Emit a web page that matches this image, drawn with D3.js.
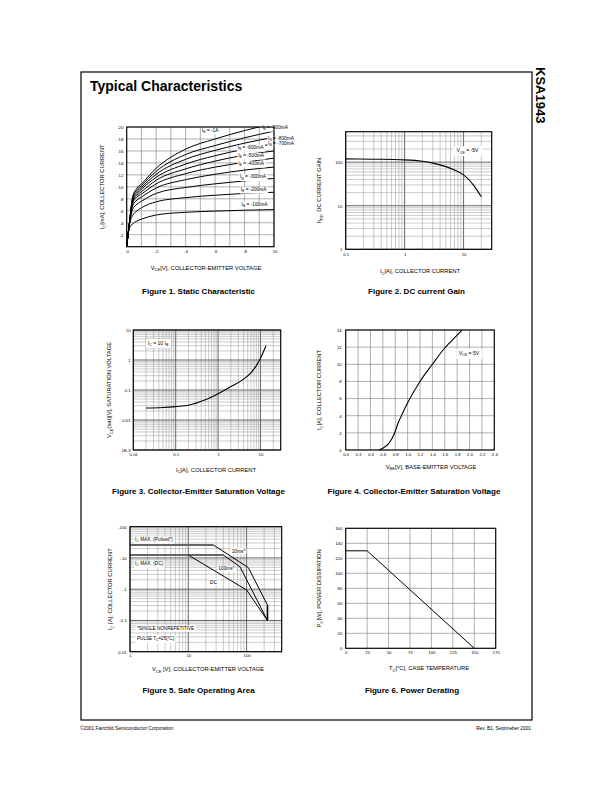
<!DOCTYPE html>
<html><head><meta charset="utf-8">
<script src="https://cdn.jsdelivr.net/npm/d3@7"></script>
<style>body{margin:0;background:#fff}svg{display:block}</style>
</head><body><svg id="c" width="612" height="792"></svg>
<script>
// ---------- Figure 1: Static characteristic ----------
const fig1XTicks = [0,2,4,6,8,10];
const fig1XLabels = [".0",".2",".4",".6",".8",".10"];
const fig1YTicks = [2,4,6,8,10,12,14,16,18,20];
const fig1YLabels = [".2",".4",".6",".8",".10",".12",".14",".16",".18",".20"];
const fig1Vce = [0,0.2,0.4,0.7,1,2,4,6,8,10];
const fig1Ib100  = [0,3.2,3.8,4.3,4.6,5.3,5.75,5.95,6.1,6.2];
const fig1Ib200  = [0,3.8,5.2,6.0,6.5,7.5,8.2,8.6,8.9,9.1];
const fig1Ib300  = [0,4.0,6.2,7.1,7.6,8.9,9.9,10.5,11.0,11.4];
const fig1Ib400  = [0,4.1,6.8,7.8,8.3,9.8,11.2,12.1,12.8,13.3];
const fig1Ib500  = [0,4.2,7.2,8.3,8.8,10.5,12.2,13.3,14.1,14.8];
const fig1Ib600  = [0,4.2,7.5,8.6,9.2,11.1,13.0,14.3,15.3,16.0];
const fig1Ib700  = [0,4.3,7.7,8.9,9.6,11.6,13.8,15.2,16.3,17.2];
const fig1Ib800  = [0,4.3,7.9,9.2,9.9,12.1,14.6,16.1,17.3,18.3];
const fig1Ib900  = [0,4.4,8.1,9.5,10.2,12.6,15.4,16.9,18.2,19.3];
const fig1Ib1000 = [0,4.4,8.3,9.8,10.5,13.1,16.3,18.0,19.4,20.6];
const fig1Labels = ["I_{B} = -1A","I_{B} = -900mA","I_{B} = -800mA","I_{B} = -700mA","I_{B} = -600mA","I_{B} = -500mA","I_{B} = -400mA","I_{B} = -300mA","I_{B} = -200mA","I_{B} = -100mA"];
const fig1LabelX = [5.1,9.2,9.6,9.6,7.53,7.57,7.57,7.7,7.74,7.8];
const fig1LabelY = [19.2,19.65,17.9,17.0,16.3,14.98,13.64,11.4,9.3,6.8];

// ---------- Figure 2: DC current gain ----------
const fig2XTicks = [0.1,1,10];
const fig2XLabels = ["0.1","1","10"];
const fig2YTicks = [1,10,100];
const fig2YLabels = ["1","10","100"];
const fig2Ic  = [0.1,0.3,1,2,3,5,7,10,15,20];
const fig2Hfe = [119,117,113,105,95,79,66,51,29,16];

// ---------- Figure 3: Vce(sat) ----------
const fig3XTicks = [0.01,0.1,1,10];
const fig3XLabels = ["0.01","0.1","1","10"];
const fig3YTicks = [0.001,0.01,0.1,1,10];
const fig3YLabels = ["1E-3","0.01","0.1","1","10"];
const fig3Ic   = [0.02,0.05,0.1,0.2,0.5,1,2,4,6,8,10,13.5];
const fig3Vsat = [0.025,0.026,0.028,0.031,0.047,0.075,0.13,0.23,0.38,0.65,1.15,3.0];

// ---------- Figure 4: Ic vs Vbe ----------
const fig4XTicks = [0,0.2,0.4,0.6,0.8,1.0,1.2,1.4,1.6,1.8,2.0,2.2,2.4];
const fig4XLabels = ["0.0","0.2","0.4","0.6","0.8","1.0","1.2","1.4","1.6","1.8","2.0","2.2","2.4"];
const fig4YTicks = [0,2,4,6,8,10,12,14];
const fig4YLabels = ["0","2","4","6","8","10","12","14"];
const fig4Vbe = [0.53,0.6,0.7,0.78,0.85,0.9,1.0,1.2,1.4,1.6,1.8,1.88];
const fig4Ic  = [0,0.2,0.8,1.8,3.2,4.0,5.5,8.0,10.0,11.9,13.4,14];

// ---------- Figure 5: Safe operating area ----------
const fig5XTicks = [1,10,100];
const fig5XLabels = ["1","10","100"];
const fig5YTicks = [0.01,0.1,1,10,100];
const fig5YLabels = ["-0.01","-0.1","-1","-10","-100"];
const fig5PulsedV = [1,27];      const fig5PulsedI = [26,26];
const fig5DcMaxV  = [1,40];      const fig5DcMaxI  = [12.4,12.4];
const fig5ms10V  = [27,107,228,228];   const fig5ms10I  = [26,4.9,0.31,0.1];
const fig5ms100V = [40,77,228];        const fig5ms100I = [12.4,5.2,0.1];
const fig5DcV    = [10,100,228];       const fig5DcI    = [12.4,0.94,0.1];
const fig5VceoV  = [228,228];          const fig5VceoI  = [0.31,0.1];

// ---------- Figure 6: Power derating ----------
const fig6XTicks = [0,25,50,75,100,125,150,175];
const fig6XLabels = ["0","25","50","75","100","125","150","175"];
const fig6YTicks = [0,20,40,60,80,100,120,140,160];
const fig6YLabels = ["0","20","40","60","80","100","120","140","160"];
const fig6Tc = [0,25,150];
const fig6Pc = [130,130,0];

// ===================================================
const FONT = '"Liberation Sans", Arial, Helvetica, sans-serif';
const svg = d3.select("#c");
svg.append("rect").attr("width",612).attr("height",792).attr("fill","#fff");

function rich(t, str, size){
  const parts = str.split(/(_\{[^}]*\})/);
  let cur = 0;
  parts.forEach(p=>{
    if(!p) return;
    const m = p.match(/^_\{(.*)\}$/);
    const target = m ? size*0.28 : 0;
    const ts = t.append("tspan").text(m ? m[1] : p);
    if(m) ts.attr("font-size", size*0.7);
    if(target!==cur) ts.attr("dy", target-cur);
    cur = target;
  });
}
function addText(g, x, y, str, size, o={}){
  const t = g.append("text").attr("x",x).attr("y",y).attr("font-size",size)
    .attr("font-family",FONT).attr("fill","#000");
  if(o.anchor) t.attr("text-anchor",o.anchor);
  if(o.weight) t.attr("font-weight",o.weight);
  if(o.rotate) t.attr("transform",`rotate(${o.rotate},${x},${y})`);
  rich(t,str,size);
  return t;
}
function boxed(g, x, y, str, size, o={}){
  const t = addText(g,x,y,str,size,o);
  const bb = t.node().getBBox();
  const px = o.padX ?? 1.5, py = o.padY ?? 0.6;
  g.insert("rect", () => t.node())
    .attr("x",bb.x-px).attr("y",bb.y-py).attr("width",bb.width+2*px).attr("height",bb.height+2*py)
    .attr("fill","#fff").attr("stroke",o.stroke||"none").attr("stroke-width",0.4);
  return t;
}
let clipId = 0;
function plot(c){
  const g = svg.append("g");
  const x = (c.xLog ? d3.scaleLog() : d3.scaleLinear()).domain(c.xDom).range([c.l,c.r]);
  const y = (c.yLog ? d3.scaleLog() : d3.scaleLinear()).domain(c.yDom).range([c.b,c.t]);
  const isDec = v => Math.abs(Math.log10(v)-Math.round(Math.log10(v)))<1e-9;
  const xg = c.xLog ? x.ticks() : c.xGrid;
  const yg = c.yLog ? y.ticks() : c.yGrid;
  const grid = g.append("g");
  xg.forEach(v=>{
    const dec = c.xLog && isDec(v);
    grid.append("line").attr("x1",x(v)).attr("x2",x(v)).attr("y1",c.t).attr("y2",c.b)
      .attr("stroke", c.xLog ? (dec?"#555":"#8a8a8a") : "#7a7a7a")
      .attr("stroke-width", c.xLog ? (dec?0.9:0.45) : 0.6);
  });
  yg.forEach(v=>{
    const dec = c.yLog && isDec(v);
    grid.append("line").attr("y1",y(v)).attr("y2",y(v)).attr("x1",c.l).attr("x2",c.r)
      .attr("stroke", c.yLog ? (dec?"#555":"#8a8a8a") : "#7a7a7a")
      .attr("stroke-width", c.yLog ? (dec?0.9:0.45) : 0.6);
  });
  const ax = g.append("g").attr("transform",`translate(0,${c.b})`)
    .call(d3.axisBottom(x).tickValues(c.xTicks).tickFormat((d,i)=>c.xLabels[i]).tickSize(0).tickPadding(c.xPad));
  ax.select(".domain").remove();
  ax.attr("font-size",4.3).attr("font-family",FONT);
  const ay = g.append("g").attr("transform",`translate(${c.l},0)`)
    .call(d3.axisLeft(y).tickValues(c.yTicks).tickFormat((d,i)=>c.yLabels[i]).tickSize(0).tickPadding(c.yPad));
  ay.select(".domain").remove();
  ay.attr("font-size",4.3).attr("font-family",FONT);
  const id = "clip"+(clipId++);
  g.append("clipPath").attr("id",id).append("rect")
    .attr("x",c.l).attr("y",c.t).attr("width",c.r-c.l).attr("height",c.b-c.t);
  const data = g.append("g").attr("clip-path",`url(#${id})`);
  const ann = g.append("g");
  g.append("rect").attr("x",c.l).attr("y",c.t).attr("width",c.r-c.l).attr("height",c.b-c.t)
    .attr("fill","none").attr("stroke","#000").attr("stroke-width",1.1);
  addText(g, c.ytX, (c.t+c.b)/2 + (c.ytDy||0), c.yTitle, 5.8, {anchor:"middle", rotate:-90});
  addText(g, c.xtX, c.xtY, c.xTitle, 5.8, {anchor:"middle"});
  addText(g, c.capX, c.capY, c.caption, 8, {anchor:"middle", weight:"bold"});
  return {g, x, y, data, ann};
}
function drawLine(p, xs, ys, o={}){
  const pts = xs.map((v,i)=>[v,ys[i]]);
  const line = d3.line().x(d=>p.x(d[0])).y(d=>p.y(d[1]));
  if(o.curve) line.curve(o.curve);
  (o.top ? p.ann : p.data).append("path").attr("d",line(pts)).attr("fill","none")
    .attr("stroke",o.color||"#000").attr("stroke-width",o.width||1.1)
    .attr("stroke-linejoin","round");
}

// ---- Page frame ----
svg.append("rect").attr("x",81).attr("y",72).attr("width",451).attr("height",648)
  .attr("fill","none").attr("stroke","#000").attr("stroke-width",1.2);
addText(svg, 90, 91, "Typical Characteristics", 14, {weight:"bold"});
addText(svg, 536, 67, "KSA1943", 13, {weight:"bold", rotate:90});
addText(svg, 80, 730, "©2001 Fairchild Semiconductor Corporation", 4.8);
addText(svg, 531, 730, "Rev. B1, Septmeber 2001", 4.8, {anchor:"end"});

// ---- Figure 1 ----
const p1 = plot({l:126.7,r:274,t:127,b:246.7, xDom:[0,10], yDom:[0,20],
  xGrid:d3.range(0,11,1), yGrid:d3.range(0,21,2),
  xTicks:fig1XTicks, xLabels:fig1XLabels, yTicks:fig1YTicks, yLabels:fig1YLabels, xPad:2.8, yPad:3.4,
  yTitle:"I_{C}[mA], COLLECTOR CURRENT", ytX:104, xTitle:"V_{CE}[V], COLLECTOR-EMITTER VOLTAGE", xtX:206, xtY:269.5,
  caption:"Figure 1. Static Characteristic", capX:198.5, capY:294});
[fig1Ib100,fig1Ib200,fig1Ib300,fig1Ib400,fig1Ib500,fig1Ib600,fig1Ib700,fig1Ib800,fig1Ib900,fig1Ib1000]
  .forEach(s=>drawLine(p1, fig1Vce, s, {curve:d3.curveMonotoneX, width:1}));
fig1Labels.forEach((s,i)=>boxed(p1.ann, p1.x(fig1LabelX[i]), p1.y(fig1LabelY[i]), s, 4.8, {padX:0.8,padY:0.2}));

// ---- Figure 2 ----
const p2 = plot({l:345.7,r:491.7,t:131.7,b:249.3, xLog:true, yLog:true, xDom:[0.1,30], yDom:[1,500],
  xTicks:fig2XTicks, xLabels:fig2XLabels, yTicks:fig2YTicks, yLabels:fig2YLabels, xPad:3.2, yPad:3.4,
  yTitle:"h_{FE}, DC CURRENT GAIN", ytX:321, xTitle:"I_{C}[A], COLLECTOR CURRENT", xtX:420, xtY:273,
  caption:"Figure 2. DC current Gain", capX:416.5, capY:294});
drawLine(p2, fig2Ic, fig2Hfe, {curve:d3.curveMonotoneX});
boxed(p2.ann, p2.x(7.6), p2.y(167), "V_{CE} = -5V", 5, {padX:3, padY:1.2});

// ---- Figure 3 ----
const p3 = plot({l:133.3,r:280.7,t:330,b:450, xLog:true, yLog:true, xDom:[0.01,30], yDom:[0.001,10],
  xTicks:fig3XTicks, xLabels:fig3XLabels, yTicks:fig3YTicks, yLabels:fig3YLabels, xPad:2.5, yPad:2.7,
  yTitle:"V_{CE}(sat)[V], SATURATION VOLTAGE", ytX:111, xTitle:"I_{C}[A], COLLECTOR CURRENT", xtX:216, xtY:471.5,
  caption:"Figure 3. Collector-Emitter Saturation Voltage", capX:198.5, capY:494});
drawLine(p3, fig3Ic, fig3Vsat, {curve:d3.curveMonotoneX});
boxed(p3.ann, p3.x(0.0222), p3.y(3.16), "I_{C} = 10 I_{B}", 5, {padX:2.5, padY:1.5, stroke:"#999"});

// ---- Figure 4 ----
const p4 = plot({l:345.7,r:494.3,t:330,b:450, xDom:[0,2.4], yDom:[0,14],
  xGrid:fig4XTicks, yGrid:fig4YTicks,
  xTicks:fig4XTicks, xLabels:fig4XLabels, yTicks:fig4YTicks, yLabels:fig4YLabels, xPad:2.5, yPad:4,
  yTitle:"I_{C}[A], COLLECTOR CURRENT", ytX:321, xTitle:"V_{BE}[V], BASE-EMITTER VOLTAGE", xtX:431, xtY:468.5,
  caption:"Figure 4. Collector-Emitter Saturation Voltage", capX:414, capY:494});
drawLine(p4, fig4Vbe, fig4Ic, {curve:d3.curveMonotoneX});
boxed(p4.ann, p4.x(1.83), p4.y(11.08), "V_{CE} = 5V", 5, {padX:2.5, padY:1.5});

// ---- Figure 5 ----
const p5 = plot({l:130,r:281.7,t:526.7,b:651.7, xLog:true, yLog:true, xDom:[1,400], yDom:[0.01,100],
  xTicks:fig5XTicks, xLabels:fig5XLabels, yTicks:fig5YTicks, yLabels:fig5YLabels, xPad:2.5, yPad:3.3,
  yTitle:"I_{C} [A], COLLECTOR CURRENT", ytX:112, xTitle:"V_{CE} [V], COLLECTOR-EMITTER VOLTAGE", xtX:208, xtY:671,
  caption:"Figure 5. Safe Operating Area", capX:198.5, capY:693});
drawLine(p5, fig5PulsedV, fig5PulsedI, {color:"#666", width:2});
drawLine(p5, fig5DcMaxV, fig5DcMaxI, {color:"#666", width:2});
drawLine(p5, fig5VceoV, fig5VceoI, {color:"#666", width:2});
drawLine(p5, fig5ms10V, fig5ms10I, {width:1});
drawLine(p5, fig5ms100V, fig5ms100I, {width:1});
drawLine(p5, fig5DcV, fig5DcI, {width:1});
boxed(p5.ann, p5.x(1.22), p5.y(34.8), "I_{C} MAX. (Pulsed*)", 4.8, {padX:1, padY:0.4});
boxed(p5.ann, p5.x(1.22), p5.y(5.94), "I_{C} MAX. (DC)", 4.8, {padX:1, padY:0.4});
boxed(p5.ann, p5.x(55.5), p5.y(14.9), "10ms*", 4.8, {padX:1, padY:0.3});
boxed(p5.ann, p5.x(32.7), p5.y(4.1), "100ms*", 4.8, {padX:1, padY:0.3});
boxed(p5.ann, p5.x(23.6), p5.y(1.52), "DC", 4.8, {padX:1, padY:0.3});
boxed(p5.ann, p5.x(1.32), p5.y(0.0494), "*SINGLE NONREPETITIVE", 4.6, {padX:1.5, padY:0.8});
boxed(p5.ann, p5.x(1.32), p5.y(0.0237), "PULSE T_{C}=25[°C]", 4.6, {padX:1.5, padY:0.8});

// ---- Figure 6 ----
const p6 = plot({l:345.7,r:495.7,t:528.3,b:648.3, xDom:[0,175], yDom:[0,160],
  xGrid:fig6XTicks, yGrid:fig6YTicks,
  xTicks:fig6XTicks, xLabels:fig6XLabels, yTicks:fig6YTicks, yLabels:fig6YLabels, xPad:2.9, yPad:3.4,
  yTitle:"P_{C}[W], POWER DISSIPATION", ytX:321, xTitle:"T_{C}[°C], CASE TEMPERATURE", xtX:429, xtY:670,
  caption:"Figure 6. Power Derating", capX:412, capY:693});
drawLine(p6, fig6Tc, fig6Pc, {width:1});
</script></body></html>
